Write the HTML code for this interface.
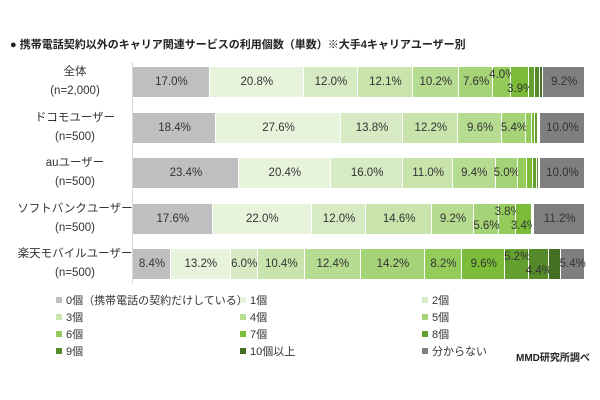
<!DOCTYPE html>
<html><head><meta charset="utf-8"><style>
body{margin:0;width:600px;height:400px;background:#fff;font-family:"Liberation Sans","Noto Sans CJK JP",sans-serif;color:#333;position:relative;overflow:hidden}
.a{position:absolute;white-space:nowrap}
.seg{position:absolute;box-sizing:border-box;border-right:1px solid #fff}
.lb{position:absolute;font-size:11.5px;transform:translate(-50%,-50%);white-space:nowrap}
.rl{position:absolute;width:130px;left:10px;text-align:center;font-size:11.5px;line-height:19px;white-space:nowrap}
.lg{position:absolute;font-size:11px}
.lg i{display:inline-block;width:6px;height:6px;margin-right:4px;vertical-align:1px}
</style></head><body>
<div class="a" style="left:10px;top:36px;font-size:11px;font-weight:bold;color:#222">● 携帯電話契約以外のキャリア関連サービスの利用個数（単数）※大手4キャリアユーザー別</div>
<div class="a" style="left:132px;top:62px;width:1px;height:222px;background:#d9d9d9"></div>
<div class="rl" style="top:63px">全体<br>(n=2,000)</div>
<div class="rl" style="top:109px">ドコモユーザー<br>(n=500)</div>
<div class="rl" style="top:154px">auユーザー<br>(n=500)</div>
<div class="rl" style="top:200px">ソフトバンクユーザー<br>(n=500)</div>
<div class="rl" style="top:245px">楽天モバイルユーザー<br>(n=500)</div>
<div id="c"></div>
<div class="lg" style="left:56px;top:292px"><i style="background:#bfbfbf"></i>0個（携帯電話の契約だけしている）</div>
<div class="lg" style="left:240px;top:292px"><i style="background:#e8f3dc"></i>1個</div>
<div class="lg" style="left:422px;top:292px"><i style="background:#d6ebc3"></i>2個</div>
<div class="lg" style="left:56px;top:309px"><i style="background:#c8e4ac"></i>3個</div>
<div class="lg" style="left:240px;top:309px"><i style="background:#b6dc92"></i>4個</div>
<div class="lg" style="left:422px;top:309px"><i style="background:#a5d378"></i>5個</div>
<div class="lg" style="left:56px;top:326px"><i style="background:#93cc5a"></i>6個</div>
<div class="lg" style="left:240px;top:326px"><i style="background:#7bbd38"></i>7個</div>
<div class="lg" style="left:422px;top:326px"><i style="background:#64a030"></i>8個</div>
<div class="lg" style="left:56px;top:343px"><i style="background:#558a2a"></i>9個</div>
<div class="lg" style="left:240px;top:343px"><i style="background:#426f22"></i>10個以上</div>
<div class="lg" style="left:422px;top:343px"><i style="background:#7f7f7f"></i>分からない</div>
<div class="a" style="left:516px;top:349px;font-size:10px;font-weight:bold;color:#222">MMD研究所調べ</div>
<script>
var cols=["#bfbfbf","#e8f3dc","#d6ebc3","#c8e4ac","#b6dc92","#a5d378","#93cc5a","#7bbd38","#64a030","#558a2a","#426f22","#7f7f7f"];
var rows=[
{y:67,d:[17,20.8,12,12.1,10.2,7.6,4.0,3.9,1.4,1.0,0.8,9.2],p:{6:-7,7:7}},
{y:113,d:[18.4,27.6,13.8,12.2,9.6,5.4,1.2,0.8,0.5,0.3,0.2,10.0],p:{}},
{y:158,d:[23.4,20.4,16.0,11.0,9.4,5.0,2.0,1.4,0.8,0.4,0.2,10.0],p:{}},
{y:204,d:[17.6,22.0,12.0,14.6,9.2,5.6,3.8,3.4,0.3,0.2,0.1,11.2],p:{5:7,6:-7,7:7}},
{y:249,d:[8.4,13.2,6.0,10.4,12.4,14.2,8.2,9.6,5.2,4.4,2.6,5.4],p:{8:-7,9:7}}];
var h="",X0=133,W=452;
rows.forEach(function(r){var s=r.d.reduce(function(a,b){return a+b},0),x=X0;
r.d.forEach(function(v,i){var w=v/s*W;
h+='<div class="seg" style="left:'+x+'px;top:'+r.y+'px;width:'+w+'px;height:30px;background:'+cols[i]+'"></div>';
var show=v>=5||(i in r.p);
if(show){var off=r.p[i]||0;h+='<div class="lb" style="left:'+(x+w/2)+'px;top:'+(r.y+15+off)+'px">'+v.toFixed(1)+'%</div>';}
x+=w;});});
document.getElementById("c").innerHTML=h;
</script>
</body></html>
